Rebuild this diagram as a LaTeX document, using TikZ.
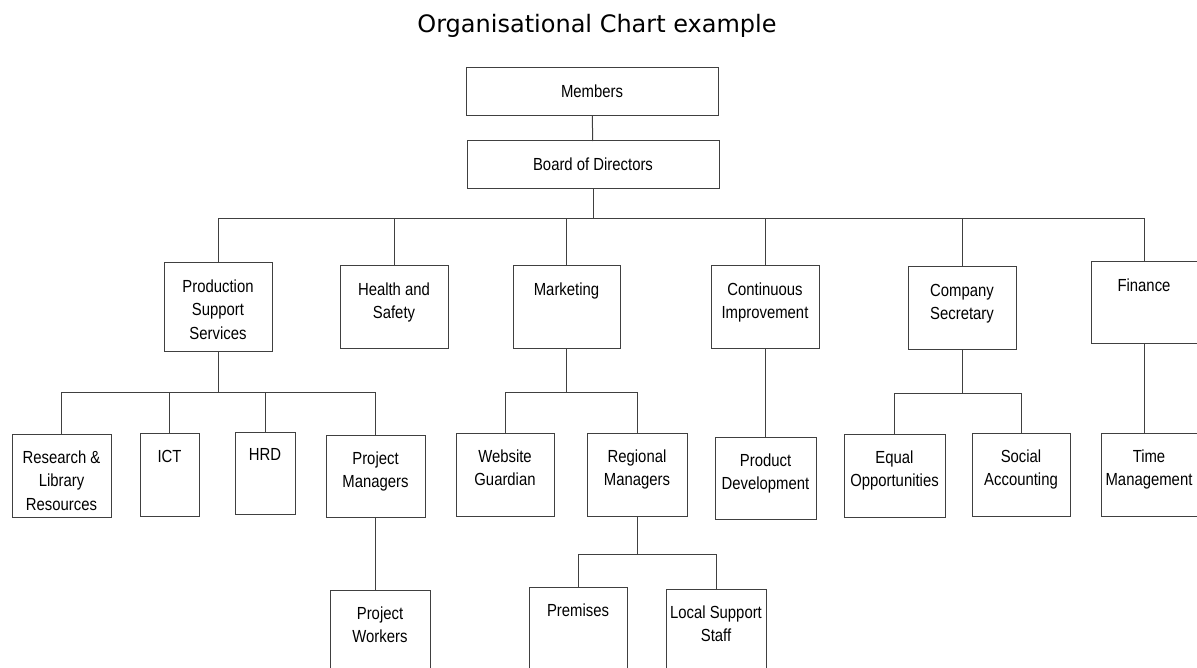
\documentclass[tikz,border=0pt]{standalone}
\usepackage{fontspec}
\setmainfont{Liberation Sans}[FakeStretch=0.85]
\newfontfamily\titlefont{DejaVu Sans}
\usepackage{tikz}
\usetikzlibrary{positioning}
\tikzset{
    box/.style = {draw=black!75,line width=1pt,rectangle,inner sep=0,outer sep=0},
    boxtext/.style = {anchor=north,inner sep=0,align=center,font=\fontsize{17.5}{23.3}\selectfont},
    link/.style = {draw=black!75,line width=1pt},
    charttitle/.style = {anchor=base,inner sep=0,font=\titlefont\fontsize{24}{28}\selectfont}
}

\begin{document}
\begin{tikzpicture}[x=1pt,y=-1pt]
        \useasboundingbox (0,0) rectangle (1197,668);
        % name / left / top / right / bottom / text
        \newcommand*\orgbox[6]{%
            \node[box,minimum width={#4-#2},minimum height={#5-#3}] (#1)
                at ({(#2+#4)/2},{(#3+#5)/2}) {};
            \node[boxtext] (#1-txt) at ([yshift=-16.6pt]#1.north) {#6};
        }
        % Title
        \node[charttitle] (title) at (597,32.5) {Organisational Chart example};
        % Top
        \orgbox{mem}{466}{68}{718}{116}{Members}
        \orgbox{board}{467}{141}{719}{189}{Board of Directors}
        % Departments
        \orgbox{pss}{164}{263}{272}{352}{Production\\Support\\Services}
        \orgbox{hs}{340}{266}{448}{349}{Health and\\Safety}
        \orgbox{mkt}{513}{266}{620}{349}{Marketing}
        \orgbox{ci}{711}{266}{819}{349}{Continuous\\Improvement}
        \orgbox{cs}{908}{267}{1016}{350}{Company\\Secretary}
        \orgbox{fin}{1091}{262}{1197}{344}{Finance}
        % Sections
        \orgbox{rlr}{12}{434}{111}{517}{Research \&\\Library\\Resources}
        \orgbox{ict}{140}{433}{199}{516}{ICT}
        \orgbox{hrd}{235}{432}{295}{514}{HRD}
        \orgbox{pm}{326}{435}{425}{517}{Project\\Managers}
        \orgbox{wg}{456}{433}{554}{516}{Website\\Guardian}
        \orgbox{rm}{587}{433}{687}{516}{Regional\\Managers}
        \orgbox{pd}{715}{437}{816}{519}{Product\\Development}
        \orgbox{eo}{844}{434}{945}{517}{Equal\\Opportunities}
        \orgbox{sa}{972}{433}{1070}{516}{Social\\Accounting}
        \orgbox{tm}{1101}{433}{1197}{516}{Time\\Management}
        % Bottom row
        \orgbox{pw}{330}{590}{430}{680}{Project\\Workers}
        \orgbox{prem}{529}{587}{627}{680}{Premises}
        \orgbox{lss}{666}{589}{766}{680}{Local Support\\Staff}
        % Bus junctions
        \coordinate (topbus) at (593,219);
        \coordinate (pssbus) at (218,392);
        \coordinate (mktbus) at (566.5,392);
        \coordinate (csbus) at (962,393);
        \coordinate (rmbus) at (637,554);
        % Links
        \draw[link] (mem) -- (board);
        \foreach \src/\bus in {board/topbus,pss/pssbus,mkt/mktbus,cs/csbus,rm/rmbus}
            \draw[link] (\src.south) -- (\bus);
        \foreach \bus/\dest in {topbus/pss,topbus/hs,topbus/mkt,topbus/ci,topbus/cs,topbus/fin,
                pssbus/rlr,pssbus/ict,pssbus/hrd,pssbus/pm,
                mktbus/wg,mktbus/rm,csbus/eo,csbus/sa,rmbus/prem,rmbus/lss}
            \draw[link] (\bus) -| (\dest.north);
        \foreach \src/\dest in {pm/pw,ci/pd,fin/tm}
            \draw[link] (\src.south) -- (\src.south |- \dest.north);
\end{tikzpicture}
\end{document}
